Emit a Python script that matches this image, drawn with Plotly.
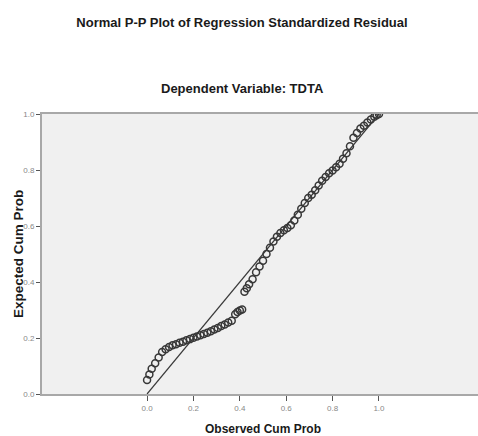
import plotly.graph_objects as go

# Observed cumulative probability (x) and expected cumulative probability (y)
observed = [0.00, 0.01, 0.02, 0.035, 0.05, 0.065, 0.08, 0.095, 0.11, 0.125,
            0.14, 0.155, 0.17, 0.185, 0.20, 0.215, 0.23, 0.245, 0.26, 0.275,
            0.29, 0.305, 0.32, 0.335, 0.35, 0.365, 0.38, 0.39, 0.40, 0.41,
            0.42, 0.43, 0.44, 0.455, 0.47, 0.485, 0.50, 0.515, 0.53, 0.545,
            0.56, 0.575, 0.59, 0.605, 0.62, 0.635, 0.65, 0.665, 0.68, 0.695,
            0.71, 0.725, 0.74, 0.755, 0.77, 0.785, 0.80, 0.815, 0.83, 0.845,
            0.86, 0.875, 0.89, 0.905, 0.92, 0.935, 0.95, 0.965, 0.98, 0.99, 1.00]
expected = [0.05, 0.07, 0.09, 0.11, 0.13, 0.15, 0.16, 0.168, 0.174, 0.178,
            0.183, 0.187, 0.192, 0.196, 0.201, 0.205, 0.210, 0.214, 0.219, 0.224,
            0.230, 0.236, 0.243, 0.248, 0.255, 0.262, 0.285, 0.293, 0.298, 0.302,
            0.365, 0.378, 0.392, 0.410, 0.435, 0.455, 0.476, 0.500, 0.522, 0.545,
            0.562, 0.575, 0.585, 0.593, 0.603, 0.620, 0.640, 0.662, 0.682, 0.700,
            0.712, 0.728, 0.745, 0.762, 0.775, 0.788, 0.798, 0.810, 0.822, 0.840,
            0.860, 0.885, 0.915, 0.932, 0.948, 0.958, 0.970, 0.980, 0.990, 0.996, 1.00]

ref_line = [0.0, 1.0]
tick_vals = [0.0, 0.2, 0.4, 0.6, 0.8, 1.0]
tick_text = ["0.0", "0.2", "0.4", "0.6", "0.8", "1.0"]

title_main = "Normal P-P Plot of Regression Standardized Residual"
title_sub = "Dependent Variable: TDTA"
x_title = "Observed Cum Prob"
y_title = "Expected Cum Prob"

FONT = "Liberation Sans, Arial, sans-serif"

W, H = 478, 436

fig = go.Figure()
fig.add_trace(go.Scatter(x=ref_line, y=ref_line, mode="lines",
                         line=dict(color="#3a3a3a", width=1.2),
                         hoverinfo="skip", showlegend=False))
fig.add_trace(go.Scatter(x=observed, y=expected, mode="markers",
                         marker=dict(symbol="circle-open", size=7,
                                     color="#383838", line=dict(width=1.5)),
                         showlegend=False))

fig.update_layout(
    width=W, height=H,
    margin=dict(l=42, r=0, t=114, b=42),
    paper_bgcolor="white",
    plot_bgcolor="#f0f0f0",
    font=dict(family=FONT, color="#222"),
    title=dict(text="<b>" + title_main + "</b>", x=242 / W, xanchor="center",
               y=1 - 22 / H, yanchor="middle",
               font=dict(size=13, color="#1a1a1a", family=FONT)),
    annotations=[
        dict(text="<b>" + title_sub + "</b>", xref="paper", yref="paper",
             x=(242 - 42) / 436, y=(H - 88 - 42) / 280, showarrow=False,
             xanchor="center", yanchor="middle",
             font=dict(size=13, color="#1a1a1a", family=FONT)),
        dict(text="<b>" + x_title + "</b>", xref="x", yref="paper",
             x=0.5, y=(H - 429 - 42) / 280, showarrow=False,
             xanchor="center", yanchor="middle",
             font=dict(size=12, color="#1a1a1a", family=FONT)),
        dict(text="<b>" + y_title + "</b>", xref="paper", yref="y",
             x=(18 - 42) / 436, y=0.5, showarrow=False, textangle=-90,
             xanchor="center", yanchor="middle",
             font=dict(size=13.5, color="#1a1a1a", family=FONT)),
    ],
)

fig.update_xaxes(range=[-0.453, 1.427], tickvals=tick_vals, ticktext=tick_text,
                 showgrid=False, zeroline=False,
                 showline=True, linecolor="#a8a8a8", linewidth=2, mirror=True,
                 ticks="outside", ticklen=5, tickcolor="#555", tickwidth=1,
                 tickfont=dict(size=8, color="#888"))
fig.update_yaxes(range=[0, 1], tickvals=tick_vals, ticktext=tick_text,
                 showgrid=False, zeroline=False,
                 showline=True, linecolor="#a8a8a8", linewidth=2,
                 ticks="outside", ticklen=4, tickcolor="#555", tickwidth=1,
                 tickfont=dict(size=8, color="#888"))

fig.write_html("out.html",
               config={"displayModeBar": False},
               post_script="document.body.style.margin='0';"
                           "document.body.style.overflow='hidden';")
